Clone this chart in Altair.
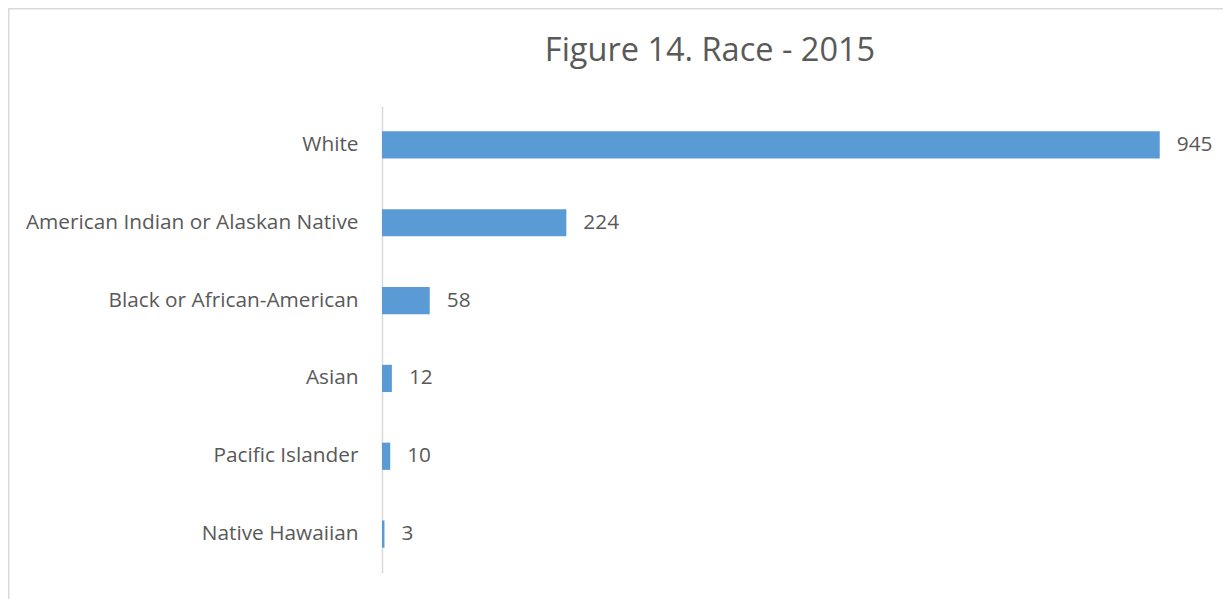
import altair as alt
import pandas as pd

categories = ["White", "American Indian or Alaskan Native", "Black or African-American",
              "Asian", "Pacific Islander", "Native Hawaiian"]
values = [945, 224, 58, 12, 10, 3]
title_text = ["Figure 14. Race - 2015"]

df = pd.DataFrame({"race": categories, "count": values})

W, H = 823, 467
FONT = "Open Sans"
GREY = "#595959"

base = alt.Chart(df)

bars = base.mark_bar(color="#5B9BD5").encode(
    y=alt.Y("race:N", sort=categories,
            scale=alt.Scale(paddingInner=0.65, paddingOuter=0.325),
            axis=alt.Axis(title=None, ticks=False, domainColor="#d9d9d9", domainWidth=1.5,
                          labelFont=FONT, labelFontSize=20.8, labelColor=GREY,
                          labelPadding=24, labelLimit=500)),
    x=alt.X("count:Q", scale=alt.Scale(domain=[0, 1000]), axis=None),
)

labels = base.mark_text(align="left", baseline="middle", dx=17, font=FONT,
                        fontSize=20.8, color=GREY).encode(
    y=alt.Y("race:N", sort=categories),
    x="count:Q",
    text="count:Q",
)

frame_left = alt.Chart(pd.DataFrame({"a": [0]})).mark_rule(color="#d9d9d9", strokeWidth=2).encode(
    x=alt.value(-373.5), y=alt.value(-97.5), y2=alt.value(600))
frame_top = alt.Chart(pd.DataFrame({"a": [0]})).mark_rule(color="#d9d9d9", strokeWidth=2).encode(
    y=alt.value(-97.5), x=alt.value(-373.5), x2=alt.value(900))

title = alt.Chart(pd.DataFrame({"t": title_text})).mark_text(
    font=FONT, fontSize=32.5, color=GREY, align="center", baseline="middle").encode(
    text="t:N", x=alt.value(328), y=alt.value(-55))

chart = alt.layer(frame_left, frame_top, title, bars, labels).properties(
    width=W, height=H,
    autosize=alt.AutoSizeParams(type="none"),
    padding={"left": 374, "top": 98, "right": 18, "bottom": 26},
    background="white",
).configure_view(stroke=None, strokeWidth=0)

chart.save("out.html", embed_options={"renderer": "svg", "actions": False})
